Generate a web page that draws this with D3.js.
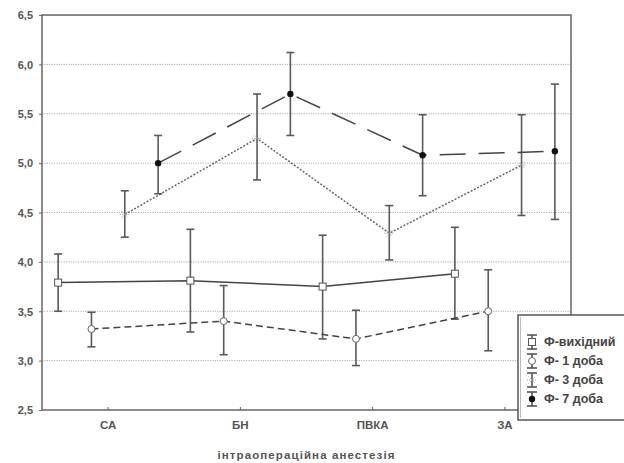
<!DOCTYPE html>
<html>
<head>
<meta charset="utf-8">
<script src="https://cdn.jsdelivr.net/npm/d3@7"></script>
<style>
  body { margin: 0; background: #fff; }
  svg { display: block; font-family: "Liberation Sans", Arial, sans-serif; }
  .grid line { stroke: #aaa; stroke-dasharray: 1.2,1.2; stroke-width: 1; }
  .tick-label { fill: #555; font-size: 11px; font-weight: bold; }
</style>
</head>
<body>
<svg id="chart" width="624" height="463"></svg>
<script>
const categories = ['СА', 'БН', 'ПВКА', 'ЗА'];
const seriesNames = ['Ф-вихідний', 'Ф- 1 доба', 'Ф- 3 доба', 'Ф- 7 доба'];

// means and error-bar ends
const fBase   = [3.79, 3.81, 3.75, 3.88];
const fBaseHi = [4.08, 4.33, 4.27, 4.35];
const fBaseLo = [3.50, 3.29, 3.22, 3.42];

const f1   = [3.32, 3.40, 3.22, 3.50];
const f1Hi = [3.49, 3.76, 3.51, 3.92];
const f1Lo = [3.14, 3.06, 2.95, 3.10];

const f3   = [4.48, 5.25, 4.29, 4.98];
const f3Hi = [4.72, 5.70, 4.57, 5.49];
const f3Lo = [4.25, 4.83, 4.02, 4.47];

const f7   = [5.00, 5.70, 5.08, 5.12];
const f7Hi = [5.28, 6.12, 5.49, 5.80];
const f7Lo = [4.69, 5.28, 4.67, 4.43];

const yTicks = [2.5, 3.0, 3.5, 4.0, 4.5, 5.0, 5.5, 6.0, 6.5];

const series = [
    {name: seriesNames[0], mean: fBase, hi: fBaseHi, lo: fBaseLo, dash: null, marker: 'square'},
    {name: seriesNames[1], mean: f1, hi: f1Hi, lo: f1Lo, dash: '7,4', marker: 'circle'},
    {name: seriesNames[2], mean: f3, hi: f3Hi, lo: f3Lo, dash: '2,1.6', marker: 'star'},
    {name: seriesNames[3], mean: f7, hi: f7Hi, lo: f7Lo, dash: '26,13', marker: 'dot'},
];

const svg = d3.select('#chart');
const plotLeft = 42, plotRight = 571, plotTop = 15, plotBottom = 410;

const x = d3.scaleBand().domain(categories).range([plotLeft, plotRight]);
const offset = d3.scalePoint().domain(seriesNames).range([-50, 50]);
const y = d3.scaleLinear().domain([2.5, 6.5]).range([plotBottom, plotTop]);

const px = (s, i) => x(categories[i]) + x.bandwidth() / 2 + offset(s.name);

// grid
svg.append('g').attr('class', 'grid')
    .selectAll('line')
    .data(yTicks.filter(t => t > 2.5 && t < 6.5))
    .enter().append('line')
    .attr('x1', plotLeft).attr('x2', plotRight)
    .attr('y1', d => y(d)).attr('y2', d => y(d));

// frame
svg.append('rect')
    .attr('x', plotLeft).attr('y', plotTop)
    .attr('width', plotRight - plotLeft).attr('height', plotBottom - plotTop)
    .attr('fill', 'none').attr('stroke', '#666').attr('stroke-width', 1.5);

// y axis
const yAxis = svg.append('g').attr('transform', `translate(${plotLeft},0)`)
    .call(d3.axisLeft(y).tickValues(yTicks).tickSize(3)
        .tickFormat(d => d3.format('.1f')(d).replace('.', ',')));
yAxis.select('.domain').remove();
yAxis.selectAll('.tick line').attr('stroke', '#666');
yAxis.selectAll('.tick text').attr('class', 'tick-label').attr('x', -9).attr('dy', '0.35em');

// x axis, ticks pointing inward
const xAxis = svg.append('g').attr('transform', `translate(0,${plotBottom})`)
    .call(d3.axisBottom(x).tickSize(-3).tickPadding(11));
xAxis.select('.domain').remove();
xAxis.selectAll('.tick line').attr('stroke', '#666');
xAxis.selectAll('.tick text').attr('class', 'tick-label').style('font-size', '11.5px');

svg.append('text')
    .attr('x', (plotLeft + plotRight) / 2).attr('y', 459)
    .attr('text-anchor', 'middle')
    .attr('fill', '#555')
    .style('font-size', '11.5px').style('font-weight', 'bold').style('letter-spacing', '1.1px')
    .text('інтраопераційна анестезія');

function drawMarker(g, type, cx, cy) {
    if (type === 'square') {
        g.append('rect').attr('x', cx - 3.5).attr('y', cy - 3.5).attr('width', 7).attr('height', 7)
            .attr('fill', '#fff').attr('stroke', '#555').attr('stroke-width', 1);
    } else if (type === 'circle') {
        g.append('circle').attr('cx', cx).attr('cy', cy).attr('r', 3.5)
            .attr('fill', '#fff').attr('stroke', '#666').attr('stroke-width', 1);
    } else if (type === 'star') {
        const s = g.append('g').attr('stroke', '#aaa').attr('stroke-width', 1).attr('stroke-dasharray', '1,1');
        s.append('line').attr('x1', cx - 5).attr('x2', cx + 5).attr('y1', cy).attr('y2', cy);
        s.append('line').attr('x1', cx - 3.5).attr('x2', cx + 3.5).attr('y1', cy - 3.5).attr('y2', cy + 3.5);
        s.append('line').attr('x1', cx - 3.5).attr('x2', cx + 3.5).attr('y1', cy + 3.5).attr('y2', cy - 3.5);
    } else {
        g.append('circle').attr('cx', cx).attr('cy', cy).attr('r', 3.2).attr('fill', '#111');
    }
}

function drawErrorBar(g, cx, yHi, yLo, color, capHalf = 4) {
    g.append('line').attr('x1', cx).attr('x2', cx).attr('y1', yHi).attr('y2', yLo)
        .attr('stroke', color).attr('stroke-width', 1.6);
    [yHi, yLo].forEach(yy => g.append('line')
        .attr('x1', cx - capHalf).attr('x2', cx + capHalf).attr('y1', yy).attr('y2', yy)
        .attr('stroke', color).attr('stroke-width', 1.6));
}

const line = d3.line().x(d => d[0]).y(d => d[1]);

series.forEach(s => {
    const g = svg.append('g');
    const pts = s.mean.map((v, i) => [px(s, i), y(v)]);
    const path = g.append('path').attr('d', line(pts))
        .attr('fill', 'none')
        .attr('stroke', s.marker === 'star' ? '#666' : '#444')
        .attr('stroke-width', 1.5);
    if (s.dash) path.attr('stroke-dasharray', s.dash);

    s.mean.forEach((v, i) => {
        const cx = px(s, i);
        drawErrorBar(g, cx, y(s.hi[i]), y(s.lo[i]), '#5a5a5a');
        drawMarker(g, s.marker, cx, y(v));
    });
});

// legend
const lg = svg.append('g');
lg.append('rect').attr('x', 518).attr('y', 315).attr('width', 120).attr('height', 105)
    .attr('fill', '#fff').attr('stroke', '#555').attr('stroke-width', 1.5);
lg.append('line').attr('x1', 520.5).attr('x2', 520.5).attr('y1', 317).attr('y2', 418)
    .attr('stroke', '#bbb').attr('stroke-width', 1);

series.forEach((s, i) => {
    const cy = 342 + i * 19;
    const cx = 532;
    drawErrorBar(lg, cx, cy - 7, cy + 7, '#555', 5);
    drawMarker(lg, s.marker, cx, cy);
    lg.append('text').attr('x', 544).attr('y', cy).attr('dy', '0.35em')
        .attr('fill', '#444').style('font-size', '12.5px').style('font-weight', 'bold')
        .text(s.name);
});
</script>
</body>
</html>
